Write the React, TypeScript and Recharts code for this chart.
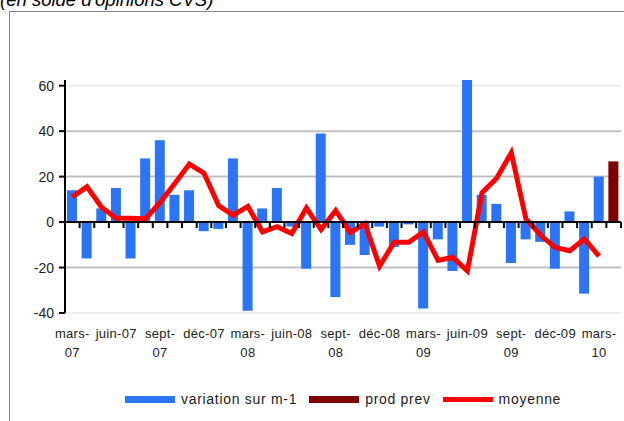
import React from 'react';
import { ComposedChart, Bar, Line, XAxis, YAxis, CartesianGrid, ReferenceLine } from 'recharts';

const months = [
  'mars-07', 'avr-07', 'mai-07', 'juin-07', 'juil-07', 'août-07', 'sept-07', 'oct-07', 'nov-07', 'déc-07',
  'janv-08', 'févr-08', 'mars-08', 'avr-08', 'mai-08', 'juin-08', 'juil-08', 'août-08', 'sept-08', 'oct-08',
  'nov-08', 'déc-08', 'janv-09', 'févr-09', 'mars-09', 'avr-09', 'mai-09', 'juin-09', 'juil-09', 'août-09',
  'sept-09', 'oct-09', 'nov-09', 'déc-09', 'janv-10', 'févr-10', 'mars-10', 'avr-10',
];

const variation = [
  14, -16, 6, 15, -16, 28, 36, 12, 14, -4, -3, 28, -39, 6, 15, -2, -20.5, 39, -33, -10,
  -14.5, -2, -11, -1, -38, -7.6, -21.5, 62.5, 12, 8, -18, -7.6, -8.7, -20.5, 4.7, -31.5, 20, null,
];

const prodPrev = [
  null, null, null, null, null, null, null, null, null, null, null, null, null, null, null, null, null, null, null, null,
  null, null, null, null, null, null, null, null, null, null, null, null, null, null, null, null, null, 26.7,
];

const moyenne = [
  11, 15.5, 6.5, 1.7, 1.7, 1.5, 8.6, 17, 25.5, 21.5, 7.3, 3, 6.9, -4.3, -2, -5, 6.2, -3.3, 5.1, -4.6,
  -0.7, -19.4, -8.9, -8.9, -4.3, -16.9, -15.5, -21.5, 12.9, 19.3, 30.5, 1.4, -5.7, -11.2, -12.6, -7.4, -15, null,
];

const yTicks = [-40, -20, 0, 20, 40, 60];

const BLUE = '#2b74f5';
const DARK_RED = '#7f0000';
const RED = '#ff0000';
const FONT = 'Arial, "Liberation Sans", sans-serif';

const data = months.map((m, i) => ({
  month: m,
  variation: variation[i],
  prodPrev: prodPrev[i],
  moyenne: moyenne[i],
}));

const legendItems = [
  { name: 'variation sur m-1', color: BLUE, kind: 'bar' },
  { name: 'prod prev', color: DARK_RED, kind: 'bar' },
  { name: 'moyenne', color: RED, kind: 'line' },
];

// labels like "mars-07" wrap onto two lines in the original
const MonthTick = (props: any) => {
  const { x, y, payload } = props;
  const label: string = payload.value;
  const wrap = label.startsWith('mars') || label.startsWith('sept');
  const parts = wrap ? [label.slice(0, label.indexOf('-') + 1), label.slice(label.indexOf('-') + 1)] : [label];
  return (
    <g>
      {parts.map((p, k) => (
        <text key={k} x={x} y={y + 25 + k * 19} textAnchor="middle" fontSize={13} fill="#222"
          fontFamily={FONT} letterSpacing={0.3}>
          {p}
        </text>
      ))}
    </g>
  );
};

// tick marks between months, hung under the zero line
const ZeroTicks = (props: any) => {
  const { x, y, width } = props.viewBox;
  const n = months.length;
  const step = width / n;
  const ticks = [];
  for (let k = 0; k <= n; k++) {
    const tx = x + k * step;
    ticks.push(<line key={k} x1={tx} x2={tx} y1={y} y2={y + 6} stroke="#000" strokeWidth={2} />);
  }
  return <g>{ticks}</g>;
};

export default function App() {
  return (
    <div style={{ position: 'absolute', left: 0, top: 0, width: 624, height: 421, overflow: 'hidden', background: '#fff' }}>
      <div
        style={{
          position: 'absolute', left: 0, top: -11, fontFamily: FONT, fontStyle: 'italic', fontSize: 18.5,
          color: '#000', whiteSpace: 'nowrap',
        }}
      >
        (en solde d'opinions CVS)
      </div>
      <div style={{ position: 'absolute', left: 9, top: 11, width: 700, height: 500, border: '1.5px solid #858585' }} />
      <div style={{ position: 'absolute', left: 0, top: 0 }}>
        <ComposedChart
          width={624}
          height={421}
          data={data}
          margin={{ top: 80, right: 3, left: 15, bottom: 78 }}
          barSize={10}
        >
          <CartesianGrid vertical={false} horizontalValues={[40, 20, -20]} stroke="#c0c0c0" strokeWidth={2} />
          <CartesianGrid vertical={false} horizontalValues={[60, -40]} stroke="#e8e8e8" strokeWidth={1.5} />
          <XAxis
            dataKey="month"
            interval={2}
            axisLine={false}
            tickLine={false}
            tickSize={0}
            tickMargin={0}
            height={30}
            tick={<MonthTick />}
          />
          <YAxis
            domain={[-40, 60]}
            ticks={yTicks}
            width={50}
            axisLine={{ stroke: '#000', strokeWidth: 2 }}
            tickLine={{ stroke: '#000', strokeWidth: 2 }}
            tickSize={6}
            tickMargin={5}
            tick={{ fontSize: 14, fill: '#222', fontFamily: FONT }}
          />
          <Bar dataKey="variation" stackId="a" fill={BLUE} isAnimationActive={false} />
          <Bar dataKey="prodPrev" stackId="a" fill={DARK_RED} isAnimationActive={false} />
          <Line
            type="linear"
            dataKey="moyenne"
            stroke={RED}
            strokeWidth={5}
            dot={false}
            isAnimationActive={false}
          />
          <ReferenceLine y={0} stroke="#000" strokeWidth={2} label={<ZeroTicks />} />
        </ComposedChart>
      </div>
      <div
        style={{
          position: 'absolute', left: 125, top: 390, display: 'flex', alignItems: 'center',
          fontFamily: FONT, fontSize: 14, color: '#222', height: 18, letterSpacing: 0.7,
        }}
      >
        {legendItems.map((it) => (
          <div key={it.name} style={{ display: 'flex', alignItems: 'center', marginRight: 12 }}>
            <div style={{ width: 50, height: it.kind === 'bar' ? 7 : 5, background: it.color, marginRight: 6 }} />
            <span>{it.name}</span>
          </div>
        ))}
      </div>
    </div>
  );
}
